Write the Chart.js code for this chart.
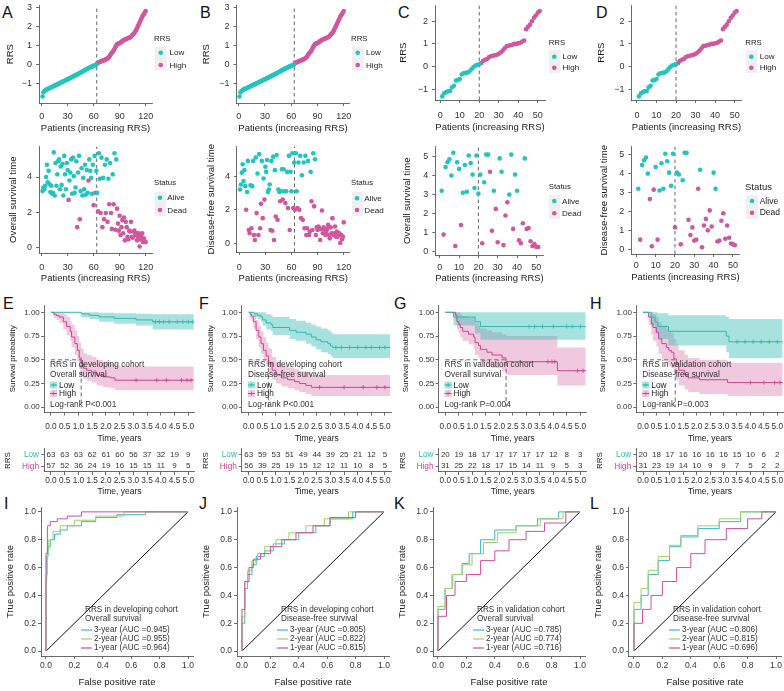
<!DOCTYPE html>
<html><head><meta charset="utf-8">
<script src="https://cdn.jsdelivr.net/npm/chart.js@4.4.1/dist/chart.umd.min.js"></script>
<style>
html,body{margin:0;padding:0;background:#fff}
body{position:relative;width:784px;height:691px;overflow:hidden;font-family:'Liberation Sans',Arial,sans-serif}
canvas{position:absolute}
.pl{position:absolute;font-size:16px;line-height:16px;color:#111}
</style></head><body>
<div class="pl" style="left:2px;top:5px">A</div>
<div class="pl" style="left:200px;top:5px">B</div>
<div class="pl" style="left:398px;top:5px">C</div>
<div class="pl" style="left:596px;top:5px">D</div>
<div class="pl" style="left:3px;top:296px">E</div>
<div class="pl" style="left:199px;top:296px">F</div>
<div class="pl" style="left:394px;top:296px">G</div>
<div class="pl" style="left:590px;top:296px">H</div>
<div class="pl" style="left:4px;top:496px">I</div>
<div class="pl" style="left:199px;top:496px">J</div>
<div class="pl" style="left:394px;top:496px">K</div>
<div class="pl" style="left:590px;top:496px">L</div>
<script>
// ================= DATA =================
const devRRS = [-1.70,-1.48,-1.42,-1.38,-1.35,-1.32,-1.30,-1.28,-1.26,-1.24,
-1.21,-1.19,-1.17,-1.15,-1.12,-1.10,-1.08,-1.06,-1.04,-1.02,
-0.99,-0.97,-0.95,-0.92,-0.90,-0.88,-0.86,-0.83,-0.81,-0.79,
-0.77,-0.74,-0.72,-0.70,-0.67,-0.65,-0.63,-0.60,-0.58,-0.56,
-0.53,-0.51,-0.48,-0.46,-0.43,-0.41,-0.38,-0.36,-0.33,-0.31,
-0.28,-0.26,-0.23,-0.21,-0.18,-0.16,-0.14,-0.12,-0.10,-0.08,
-0.06,-0.04,-0.02,
0.05,0.08,0.10,0.12,0.14,0.16,0.18,0.20,0.22,0.24,
0.26,0.28,0.31,0.35,0.40,0.48,0.55,0.60,0.65,0.72,
0.80,0.90,0.98,1.05,1.08,1.10,1.12,1.15,1.18,1.22,
1.25,1.28,1.30,1.32,1.34,1.36,1.38,1.40,1.42,1.45,
1.50,1.55,1.60,1.65,1.72,1.80,1.90,2.00,2.10,2.20,
2.30,2.40,2.50,2.58,2.65,2.72,2.80];
const devLowN = 63;
const devCut = 63.5;
const devOsTime = [3.2,3.4,3.3,3.5,4.0,4.7,3.7,4.35,3.6,3.15,
3.5,3.05,3.1,5.4,2.95,4.8,3.5,4.15,4.9,5.0,
3.3,4.6,3.55,4.75,2.95,5.2,4.15,3.3,4.8,4.4,
2.7,3.8,4.25,5.0,3.05,5.1,4.05,3.1,3.4,4.9,
1.15,4.25,5.2,1.6,3.2,4.5,2.95,3.95,3.3,4.7,
3.0,4.4,3.1,3.8,5.0,4.35,3.95,3.05,4.7,2.4,
5.2,3.1,4.35,
3.1,2.05,5.35,3.9,1.95,5.1,1.15,3.95,1.6,4.7,
1.95,5.0,1.45,3.9,2.45,4.8,1.95,1.05,4.15,2.45,
5.35,1.0,5.0,2.2,1.35,0.95,1.8,0.7,1.15,1.55,
0.8,1.7,0.4,1.45,1.15,0.6,0.45,0.95,0.9,1.45,
0.6,0.55,0.9,0.95,0.7,0.8,0.4,0.6,0.8,0.05,
0.45,0.65,0.8,0.3,0.5,0.35,0.3];
const devOsStatus = [0,0,0,0,0,0,0,0,0,0, 0,0,0,0,0,0,0,0,0,0, 0,0,0,0,0,0,0,0,0,0,
1,0,0,0,0,0,0,0,0,0, 1,0,0,1,0,0,0,0,0,0, 0,0,0,1,0,0,0,0,0,1, 0,1,0,
0,1,0,0,1,0,1,0,1,0, 1,0,1,0,1,0,1,1,0,1, 0,1,0,1,1,1,1,1,1,1,
1,1,1,1,1,1,1,1,1,1, 1,1,1,1,1,1,1,1,1,1, 1,1,1,1,1,1,1];
const devDfsTime = [3.2,3.5,4.2,4.7,3.7,4.35,3.4,2.0,3.05,4.9,
0.8,0.6,3.45,0.9,3.4,4.9,0.5,0.2,5.1,1.8,
4.15,0.5,5.3,0.9,2.35,4.9,1.5,3.85,2.6,4.55,
4.25,4.95,3.05,3.2,3.5,0.8,4.9,0.75,5.15,0.2,
4.35,1.6,5.25,1.4,3.2,3.05,2.5,3.1,4.4,2.6,
4.4,3.1,2.4,3.1,4.25,2.1,5.2,0.8,4.25,3.1,
5.35,2.1,4.8,
2.0,5.35,3.1,2.1,4.8,2.0,5.2,1.5,4.05,1.4,
4.8,0.9,5.2,0.5,0.9,4.9,0.5,0.7,4.25,2.5,
0.8,5.35,2.2,5.0,0.5,0.95,0.8,1.0,0.9,0.2,
0.85,1.95,0.6,0.95,0.85,0.5,0.7,0.85,1.1,0.5,
0.3,0.95,0.6,1.5,0.5,0.6,1.0,0.4,0.7,0.4,
0.55,0.6,0.02,0.5,0.25,0.4,1.25];
const devDfsStatus = [0,0,0,0,0,0,0,1,0,0, 1,1,0,1,0,0,1,1,0,1, 0,1,0,1,1,0,1,0,1,0,
0,0,0,0,0,1,0,1,0,1, 0,1,0,1,0,0,1,0,0,1, 0,0,1,0,0,1,0,1,0,0, 0,1,0,
1,0,0,1,0,1,0,1,0,1, 0,1,0,1,1,0,1,1,0,1, 1,0,1,0,1,1,1,1,1,1,
1,1,1,1,1,1,1,1,1,1, 1,1,1,1,1,1,1,1,1,1, 1,1,1,1,1,1,1];
const valRRS = [-1.32,-1.18,-1.13,-1.10,-1.08,-0.92,-0.85,-0.62,-0.60,-0.55,
-0.35,-0.30,-0.28,-0.27,-0.22,-0.12,-0.02,0.04,0.07,0.10,
0.15,0.25,0.30,0.33,0.42,0.45,0.47,0.50,0.52,0.56,
0.62,0.70,0.80,0.90,0.92,0.94,0.96,1.00,1.00,1.02,
1.05,1.10,1.15,1.65,1.75,1.85,2.00,2.15,2.25,2.38,2.45];
const valLowN = 20;
const valCut = 20;
const valOsTime = [3.2,0.9,4.45,4.7,4.85,4.0,5.2,0.3,4.7,4.35,
1.4,3.1,4.55,3.15,5.05,4.65,4.05,3.35,5.05,3.05,
4.05,0.45,3.65,5.1,5.1,4.2,1.1,3.2,2.25,0.5,
4.9,4.2,0.35,1.9,2.6,3.0,5.1,1.2,4.05,3.2,
0.6,0.45,1.5,4.9,1.2,1.25,0.55,0.3,0.4,0.25,0.25];
const valOsStatus = [0,1,0,0,0,0,0,1,0,0, 1,0,0,0,0,0,0,0,0,0, 0,1,0,0,0,1,1,0,1,1,
0,0,1,1,1,0,0,1,0,0, 1,1,1,0,1,1,1,1,1,1, 1];
const valDfsTime = [3.2,0.5,4.45,4.7,4.85,4.0,2.65,0.15,3.15,4.35,
0.5,3.1,4.55,3.2,5.05,4.65,4.05,3.35,5.05,1.15,
4.05,3.95,0.25,3.65,5.1,5.1,1.55,0.75,1.15,0.45,
0.5,3.2,4.2,0.1,1.25,1.6,1.0,2.05,1.2,4.05,
3.2,0.4,0.45,1.5,1.9,0.55,1.25,0.6,0.3,0.25,0.2];
const valDfsStatus = [0,1,0,0,0,0,1,1,1,0, 1,0,0,0,0,0,0,0,0,1, 0,0,1,0,0,0,1,1,1,1,
1,1,0,1,1,1,1,1,1,0, 0,1,1,1,1,1,1,1,1,1, 1];

const kmE_lowT = [0,1.1,1.4,1.75,2.3,3.1,3.7,5.2];
const kmE_lowS = [1,0.984,0.968,0.952,0.936,0.92,0.90,0.90];
const kmE_lowU = [1,1,1,0.995,0.99,0.985,0.98,0.98];
const kmE_lowD = [1,0.95,0.93,0.90,0.88,0.86,0.82,0.82];
const kmE_highT = [0,0.1,0.2,0.3,0.45,0.57,0.7,0.75,0.87,0.96,1.03,1.1,1.18,1.3,1.48,1.66,1.9,2.15,2.33,5.2];
const kmE_highS = [1,0.98,0.965,0.95,0.9,0.85,0.8,0.74,0.67,0.6,0.52,0.46,0.41,0.39,0.37,0.34,0.32,0.31,0.285,0.285];
const kmE_highU = [1,1,1,1,0.98,0.95,0.91,0.87,0.81,0.75,0.68,0.62,0.57,0.55,0.53,0.5,0.48,0.46,0.43,0.43];
const kmE_highD = [1,0.94,0.92,0.89,0.82,0.76,0.7,0.63,0.55,0.48,0.4,0.34,0.3,0.28,0.26,0.23,0.21,0.2,0.18,0.18];
const kmE_lowCens = [3.8,3.95,4.1,4.3,4.6,4.8,5.0,5.15];
const kmE_highCens = [3.1,3.85,4.2,4.75,4.95,5.1];

const kmF_lowT = [0,0.2,0.33,0.45,0.51,0.64,0.82,0.88,1.5,1.74,2.1,2.3,2.47,2.65,2.9,3.0,3.08,5.2];
const kmF_lowS = [1,0.984,0.968,0.952,0.92,0.888,0.872,0.84,0.81,0.79,0.77,0.74,0.71,0.69,0.67,0.645,0.63,0.63];
const kmF_lowU = [1,1,1,1,1,0.98,0.97,0.95,0.93,0.91,0.89,0.87,0.85,0.83,0.81,0.79,0.77,0.77];
const kmF_lowD = [1,0.95,0.93,0.9,0.86,0.82,0.8,0.76,0.72,0.7,0.67,0.64,0.61,0.58,0.56,0.54,0.52,0.52];
const kmF_highT = [0,0.05,0.1,0.17,0.27,0.37,0.45,0.54,0.64,0.73,0.86,1.0,1.2,1.43,1.68,1.86,2.1,2.3,5.2];
const kmF_highS = [1,0.98,0.96,0.9,0.81,0.74,0.67,0.6,0.54,0.47,0.39,0.34,0.31,0.29,0.27,0.25,0.23,0.21,0.21];
const kmF_highU = [1,1,1,0.98,0.92,0.86,0.8,0.74,0.68,0.62,0.53,0.48,0.44,0.42,0.4,0.38,0.36,0.34,0.34];
const kmF_highD = [1,0.94,0.91,0.83,0.72,0.63,0.56,0.49,0.43,0.36,0.29,0.25,0.22,0.2,0.18,0.16,0.14,0.12,0.12];
const kmF_lowCens = [3.2,3.4,3.7,4.0,4.3,4.5,4.8,5.0];
const kmF_highCens = [2.6,3.5,4.2,4.7,5.0];

const kmG_lowT = [0,0.3,1.1,1.3,5.2];
const kmG_lowS = [1,0.95,0.90,0.85,0.85];
const kmG_lowU = [1,1,1,1,1];
const kmG_lowD = [1,0.86,0.78,0.71,0.71];
const kmG_highT = [0,0.37,0.43,0.5,0.55,0.64,0.86,1.05,1.1,1.23,1.3,1.54,1.73,2.1,2.25,4.15,5.2];
const kmG_highS = [1,0.97,0.90,0.87,0.84,0.80,0.77,0.74,0.68,0.65,0.61,0.58,0.55,0.52,0.48,0.385,0.385];
const kmG_highU = [1,1,1,1,0.98,0.96,0.94,0.92,0.88,0.86,0.83,0.81,0.79,0.77,0.75,0.63,0.63];
const kmG_highD = [1,0.91,0.82,0.78,0.74,0.7,0.66,0.62,0.55,0.52,0.47,0.44,0.41,0.38,0.34,0.23,0.23];
const kmG_lowCens = [3.1,3.3,3.6,4.0,4.5,4.7,5.0];
const kmG_highCens = [3.8,3.95,4.05,4.9,5.1];

const kmH_lowT = [0,0.3,0.45,0.55,0.95,3.1,3.2,5.2];
const kmH_lowS = [1,0.95,0.90,0.85,0.80,0.75,0.69,0.69];
const kmH_lowU = [1,1,1,0.99,0.97,0.95,0.93,0.93];
const kmH_lowD = [1,0.86,0.78,0.72,0.65,0.58,0.52,0.52];
const kmH_highT = [0,0.21,0.31,0.37,0.5,0.58,0.7,0.87,0.96,1.05,1.15,1.24,1.33,1.55,1.68,2.1,3.15,5.2];
const kmH_highS = [1,0.95,0.88,0.84,0.79,0.72,0.67,0.63,0.60,0.58,0.51,0.46,0.39,0.34,0.31,0.29,0.26,0.26];
const kmH_highU = [1,1,1,0.98,0.95,0.9,0.86,0.83,0.8,0.78,0.72,0.66,0.6,0.55,0.52,0.5,0.47,0.47];
const kmH_highD = [1,0.87,0.76,0.7,0.64,0.56,0.5,0.46,0.43,0.41,0.34,0.29,0.23,0.19,0.16,0.14,0.12,0.12];
const kmH_lowCens = [3.5,3.8,4.1,4.4,4.7,5.0];
const kmH_highCens = [4.0,4.5,4.9,5.1];

const kmMedians = {E:1.1, F:0.72, G:2.25, H:1.2};

const riskTimes = [0,0.5,1,1.5,2,2.5,3,3.5,4,4.5,5];
const riskE_low = [63,63,63,62,61,60,56,37,32,19,9];
const riskE_high = [57,52,36,24,19,16,15,15,11,9,5];
const riskF_low = [63,59,53,51,49,44,39,25,21,12,5];
const riskF_high = [56,39,25,19,15,12,12,11,10,8,5];
const riskG_low = [20,19,18,17,17,17,17,17,12,8,3];
const riskG_high = [31,25,22,18,17,15,14,11,9,5,3];
const riskH_low = [20,18,17,16,16,16,16,15,10,6,2];
const riskH_high = [31,23,19,14,10,9,9,7,5,2,2];

const rocI_3y = [[0,0],[0,0.5],[0.005,0.5],[0.005,0.68],[0.015,0.68],[0.015,0.75],[0.03,0.75],[0.03,0.8],[0.06,0.8],[0.06,0.84],[0.1,0.84],[0.1,0.87],[0.15,0.87],[0.15,0.9],[0.25,0.9],[0.25,0.93],[0.35,0.93],[0.35,0.96],[0.5,0.96],[0.5,0.98],[0.7,0.98],[0.7,1],[1,1]];
const rocI_2y = [[0,0],[0,0.55],[0.01,0.55],[0.01,0.72],[0.02,0.72],[0.02,0.8],[0.05,0.8],[0.05,0.86],[0.1,0.86],[0.1,0.9],[0.2,0.9],[0.2,0.94],[0.35,0.94],[0.35,0.97],[0.55,0.97],[0.55,1],[1,1]];
const rocI_1y = [[0,0],[0,0.7],[0.01,0.7],[0.01,0.9],[0.03,0.9],[0.03,0.93],[0.08,0.93],[0.08,0.95],[0.15,0.95],[0.15,0.97],[0.25,0.97],[0.25,1],[1,1]];
const rocJ_3y = [[0,0],[0,0.2],[0.02,0.2],[0.02,0.45],[0.04,0.45],[0.04,0.55],[0.07,0.55],[0.07,0.62],[0.1,0.62],[0.1,0.68],[0.16,0.68],[0.16,0.72],[0.22,0.72],[0.22,0.77],[0.3,0.77],[0.3,0.8],[0.4,0.8],[0.4,0.85],[0.52,0.85],[0.52,0.9],[0.62,0.9],[0.62,0.95],[0.78,0.95],[0.78,1],[1,1]];
const rocJ_2y = [[0,0],[0,0.25],[0.02,0.25],[0.02,0.5],[0.04,0.5],[0.04,0.58],[0.07,0.58],[0.07,0.65],[0.11,0.65],[0.11,0.7],[0.16,0.7],[0.16,0.75],[0.24,0.75],[0.24,0.8],[0.33,0.8],[0.33,0.85],[0.45,0.85],[0.45,0.9],[0.58,0.9],[0.58,0.95],[0.75,0.95],[0.75,1],[1,1]];
const rocJ_1y = [[0,0],[0,0.3],[0.02,0.3],[0.02,0.5],[0.05,0.5],[0.05,0.6],[0.08,0.6],[0.08,0.66],[0.13,0.66],[0.13,0.7],[0.2,0.7],[0.2,0.75],[0.28,0.75],[0.28,0.8],[0.38,0.8],[0.38,0.85],[0.5,0.85],[0.5,0.9],[0.62,0.9],[0.62,0.96],[0.8,0.96],[0.8,1],[1,1]];
const rocK_3y = [[0,0],[0,0.3],[0.05,0.3],[0.05,0.45],[0.1,0.45],[0.1,0.55],[0.17,0.55],[0.17,0.63],[0.22,0.63],[0.22,0.7],[0.3,0.7],[0.3,0.8],[0.4,0.8],[0.4,0.87],[0.55,0.87],[0.55,0.9],[0.7,0.9],[0.7,0.95],[0.85,0.95],[0.85,1],[1,1]];
const rocK_2y = [[0,0],[0,0.32],[0.05,0.32],[0.05,0.45],[0.1,0.45],[0.1,0.55],[0.17,0.55],[0.17,0.62],[0.24,0.62],[0.24,0.7],[0.32,0.7],[0.32,0.78],[0.42,0.78],[0.42,0.85],[0.55,0.85],[0.55,0.9],[0.72,0.9],[0.72,0.95],[0.88,0.95],[0.88,1],[1,1]];
const rocK_1y = [[0,0],[0,0.25],[0.06,0.25],[0.06,0.4],[0.12,0.4],[0.12,0.5],[0.2,0.5],[0.2,0.55],[0.3,0.55],[0.3,0.65],[0.4,0.65],[0.4,0.72],[0.5,0.72],[0.5,0.8],[0.62,0.8],[0.62,0.86],[0.75,0.86],[0.75,0.92],[0.9,0.92],[0.9,1],[1,1]];
const rocL_3y = [[0,0],[0,0.3],[0.05,0.3],[0.05,0.4],[0.1,0.4],[0.1,0.55],[0.17,0.55],[0.17,0.65],[0.25,0.65],[0.25,0.75],[0.33,0.75],[0.33,0.82],[0.45,0.82],[0.45,0.88],[0.6,0.88],[0.6,0.93],[0.75,0.93],[0.75,1],[1,1]];
const rocL_2y = [[0,0],[0,0.35],[0.05,0.35],[0.05,0.45],[0.1,0.45],[0.1,0.58],[0.17,0.58],[0.17,0.68],[0.25,0.68],[0.25,0.76],[0.33,0.76],[0.33,0.83],[0.45,0.83],[0.45,0.9],[0.6,0.9],[0.6,0.95],[0.75,0.95],[0.75,1],[1,1]];
const rocL_1y = [[0,0],[0,0.2],[0.06,0.2],[0.06,0.3],[0.12,0.3],[0.12,0.4],[0.2,0.4],[0.2,0.5],[0.3,0.5],[0.3,0.6],[0.4,0.6],[0.4,0.7],[0.5,0.7],[0.5,0.8],[0.65,0.8],[0.65,0.88],[0.8,0.88],[0.8,0.95],[0.9,0.95],[0.9,1],[1,1]];

// ================= STYLE / HELPERS =================
const FONT = "'Liberation Sans', Arial, Helvetica, sans-serif";
Chart.defaults.font.family = FONT;
Chart.defaults.color = '#333';
const CY = '#22c5bd', MG = '#d0569d';
const KM_LOW = '#2fbab1', KM_HIGH = '#c9468f';
const KM_LOW_B = 'rgba(47,186,177,0.42)', KM_HIGH_B = 'rgba(209,86,157,0.32)';
const ROC3 = '#3cb8c4', ROC2 = '#9fd067', ROC1 = '#d14f9b';
const CLEAR = 'rgba(0,0,0,0)';

const annotPlugin = {
  id: 'annot',
  afterDraw(chart, args, o) {
    if (!o || !o.items) return;
    const ctx = chart.ctx, off = o.off;
    ctx.save();
    for (const it of o.items) {
      if (it.t === 'text') {
        ctx.font = (it.size || 8) + 'px ' + FONT;
        ctx.fillStyle = it.color || '#222';
        ctx.textAlign = it.align || 'left';
        ctx.textBaseline = 'middle';
        ctx.fillText(it.s, it.x - off.left, it.y - off.top);
      } else if (it.t === 'dot') {
        ctx.fillStyle = it.color;
        ctx.beginPath(); ctx.arc(it.x - off.left, it.y - off.top, it.r || 2.3, 0, Math.PI * 2); ctx.fill();
      } else if (it.t === 'rect') {
        ctx.fillStyle = it.color;
        ctx.fillRect(it.x - off.left, it.y - off.top, it.w, it.h);
      } else if (it.t === 'line') {
        ctx.strokeStyle = it.color; ctx.lineWidth = it.w || 1;
        ctx.beginPath(); ctx.moveTo(it.x1 - off.left, it.y1 - off.top); ctx.lineTo(it.x2 - off.left, it.y2 - off.top); ctx.stroke();
      } else if (it.t === 'cross') {
        const x = it.x - off.left, y = it.y - off.top, r = it.r || 2;
        ctx.strokeStyle = it.color; ctx.lineWidth = 0.8;
        ctx.beginPath(); ctx.moveTo(x - r, y); ctx.lineTo(x + r, y); ctx.moveTo(x, y - r); ctx.lineTo(x, y + r); ctx.stroke();
      }
    }
    ctx.restore();
  }
};
const riskPlugin = {
  id: 'risk',
  afterDraw(chart, args, o) {
    if (!o || !o.rows) return;
    const ctx = chart.ctx, xs = chart.scales.x, ys = chart.scales.y;
    ctx.save();
    ctx.font = o.size + 'px ' + FONT; ctx.fillStyle = '#333';
    ctx.textAlign = 'center'; ctx.textBaseline = 'middle';
    o.rows.forEach((row, r) => row.forEach((n, i) => {
      ctx.fillText(String(n), xs.getPixelForValue(o.times[i]), ys.getPixelForValue(r));
    }));
    ctx.restore();
  }
};
Chart.register(annotPlugin, riskPlugin);

function ax(o) {
  const a = {
    type: o.type || 'linear', position: o.pos, offset: !!o.offset,
    afterFit: s => { if (o.pos === 'left') s.width = o.fit; else s.height = o.fit; },
    ticks: {autoSkip: false, maxRotation: 0, minRotation: 0, padding: o.pad, font: {family: FONT, size: o.size}, color: o.tcolor || '#333'},
    grid: {display: true, drawOnChartArea: false, drawTicks: true, tickLength: 3, color: '#444', lineWidth: 0.8},
    border: {display: true, color: '#444', width: 0.8},
    title: {display: !!o.title, text: o.title || '', font: {family: FONT, size: o.tsize || 9}, color: '#1a1a1a', padding: {top: 0, bottom: 0}}
  };
  if (o.min !== undefined) { a.min = o.min; a.max = o.max; }
  if (o.ticks) a.afterBuildTicks = s => { s.ticks = o.ticks.map(v => ({value: v})); };
  if (o.fmt) a.ticks.callback = o.fmt;
  if (o.labels) a.labels = o.labels;
  return a;
}

function place(p, config) {
  const left = Math.floor(p.l - p.yw - 2);
  const top = Math.floor(p.t - (p.pt || 8));
  const right = Math.ceil(p.r + (p.pr || 6));
  const bottom = Math.ceil(p.b + p.xh + 2);
  const cv = document.createElement('canvas');
  cv.width = right - left; cv.height = bottom - top;
  cv.style.left = left + 'px'; cv.style.top = top + 'px';
  document.body.appendChild(cv);
  const o = config.options;
  o.responsive = false; o.animation = false; o.maintainAspectRatio = false;
  o.layout = {autoPadding: false, padding: {left: p.l - p.yw - left, top: p.t - top, right: right - p.r, bottom: bottom - p.b - p.xh}};
  o.plugins = Object.assign({legend: {display: false}, tooltip: {enabled: false}}, o.plugins || {});
  o.plugins.annot = {off: {left, top}, items: p.items || []};
  return new Chart(cv, config);
}

const fmtMinus = v => (v < 0 ? '\u2212' : '') + Math.abs(v);

function legendItems(L) {
  const its = [{t: 'rect', x: L.bg[0], y: L.bg[1], w: L.bg[2], h: L.bg[3], color: '#efefef'},
               {t: 'text', x: L.tx, y: L.ty, s: L.title, size: L.ts || 7.8, color: '#222'}];
  L.items.forEach(d => {
    its.push({t: 'dot', x: L.dx, y: d.y, r: 2.3, color: d.c});
    its.push({t: 'text', x: L.lx, y: d.y + 0.3, s: d.s, size: L.is || 8.1, color: '#222'});
  });
  return its;
}

function scatterPanel(p) {
  const a = [], b = [];
  p.vals.forEach((v, i) => { const pt = {x: i + 1, y: v}; (p.second(i) ? b : a).push(pt); });
  place(p, {
    type: 'scatter',
    data: {datasets: [
      {data: a, backgroundColor: CY, borderColor: CY, borderWidth: 0, pointRadius: 2.3, order: 1},
      {data: b, backgroundColor: MG, borderColor: MG, borderWidth: 0, pointRadius: 2.3, order: 1},
      {data: [{x: p.cut, y: p.yr[0]}, {x: p.cut, y: p.yr[1]}], showLine: true, borderColor: '#555', borderWidth: 0.9, borderDash: [3.5, 3], pointRadius: 0, order: 5}
    ]},
    options: {scales: {
      x: ax({pos: 'bottom', min: p.xr[0], max: p.xr[1], ticks: p.xt, fit: p.xh, pad: p.xpad, size: 9, title: 'Patients (increasing RRS)', tsize: 9.5}),
      y: ax({pos: 'left', min: p.yr[0], max: p.yr[1], ticks: p.yt, fit: p.yw, pad: 4, size: 9, title: p.ytitle, tsize: p.ytsize || 9.5, fmt: fmtMinus})
    }}
  });
}
const dev = i => i >= devLowN, val = i => i >= valLowN;
const deadDevOs = i => devOsStatus[i] === 1, deadDevDfs = i => devDfsStatus[i] === 1;
const deadValOs = i => valOsStatus[i] === 1, deadValDfs = i => valDfsStatus[i] === 1;
const xtDev = [0, 30, 60, 90, 120], xtVal = [0, 10, 20, 30, 40, 50];

scatterPanel({l: 39, t: 4, r: 152, b: 103, yw: 34.7, xh: 30.7, xpad: 5.3, pr: 40, xr: [-3.1, 127.3], yr: [-2.04, 3.1], xt: xtDev, yt: [-1, 0, 1, 2, 3], vals: devRRS, second: dev, cut: devCut, ytitle: 'RRS',
  items: legendItems({title: 'RRS', tx: 154, ty: 39, bg: [155, 46.7, 11.7, 24], dx: 160.7, lx: 169.5, items: [{y: 52.7, c: CY, s: 'Low'}, {y: 65, c: MG, s: 'High'}]})});
scatterPanel({l: 236.5, t: 4, r: 349.5, b: 103, yw: 36.2, xh: 30.7, xpad: 5.3, pr: 40, xr: [-2.5, 126.6], yr: [-2.04, 3.1], xt: xtDev, yt: [-1, 0, 1, 2, 3], vals: devRRS, second: dev, cut: devCut, ytitle: 'RRS',
  items: legendItems({title: 'RRS', tx: 351, ty: 39.3, bg: [352, 46.7, 11.7, 24], dx: 357.7, lx: 366, items: [{y: 52.7, c: CY, s: 'Low'}, {y: 65, c: MG, s: 'High'}]})});
scatterPanel({l: 435, t: 4, r: 545, b: 100, yw: 37, xh: 33, xpad: 7, pr: 40, xr: [-2.7, 53.7], yr: [-1.48, 2.70], xt: xtVal, yt: [-1, 0, 1, 2], vals: valRRS, second: val, cut: valCut, ytitle: 'RRS',
  items: legendItems({title: 'RRS', tx: 548.7, ty: 42.7, bg: [549, 50, 11.5, 23], dx: 554.3, lx: 562.5, items: [{y: 56.7, c: CY, s: 'Low'}, {y: 67.7, c: MG, s: 'High'}]})});
scatterPanel({l: 631.5, t: 4, r: 741.5, b: 100, yw: 35.9, xh: 33, xpad: 7, pr: 43, xr: [-2.8, 53.5], yr: [-1.48, 2.70], xt: xtVal, yt: [-1, 0, 1, 2], vals: valRRS, second: val, cut: valCut, ytitle: 'RRS',
  items: legendItems({title: 'RRS', tx: 745.3, ty: 42.7, bg: [746, 50, 11.5, 23], dx: 751.3, lx: 759.7, items: [{y: 56.7, c: CY, s: 'Low'}, {y: 67.7, c: MG, s: 'High'}]})});

scatterPanel({l: 39, t: 145, r: 152, b: 253, yw: 31.8, xh: 31.1, xpad: 6.1, pr: 40, xr: [-3.1, 127.3], yr: [-0.32, 5.74], xt: xtDev, yt: [0, 2, 4], vals: devOsTime, second: deadDevOs, cut: devCut, ytitle: 'Overall survival time', ytsize: 9.6,
  items: legendItems({title: 'Status', tx: 154, ty: 183.3, bg: [155, 192, 11, 24], dx: 160, lx: 167.3, items: [{y: 197.7, c: CY, s: 'Alive'}, {y: 210, c: MG, s: 'Dead'}]})});
scatterPanel({l: 237, t: 145, r: 349.5, b: 252, yw: 31.8, xh: 32.1, xpad: 7.1, pr: 40, xr: [-2.5, 126.6], yr: [-0.51, 5.76], xt: xtDev, yt: [0, 2, 4], vals: devDfsTime, second: deadDevDfs, cut: devCut, ytitle: 'Disease-free survival time', ytsize: 9.6,
  items: legendItems({title: 'Status', tx: 351, ty: 183.3, bg: [352, 192, 11, 24], dx: 357, lx: 364.3, items: [{y: 198.3, c: CY, s: 'Alive'}, {y: 210, c: MG, s: 'Dead'}]})});
scatterPanel({l: 435.3, t: 145, r: 543.7, b: 255, yw: 34, xh: 29.1, xpad: 4.1, pr: 40, xr: [-2.3, 53.8], yr: [-0.17, 5.53], xt: xtVal, yt: [0, 1, 2, 3, 4, 5], vals: valOsTime, second: deadValOs, cut: valCut, ytitle: 'Overall survival time', ytsize: 9.6,
  items: legendItems({title: 'Status', tx: 548.7, ty: 186.7, bg: [549, 195, 11, 24], dx: 554.3, lx: 562, items: [{y: 201, c: CY, s: 'Alive'}, {y: 213.3, c: MG, s: 'Dead'}]})});
scatterPanel({l: 631.3, t: 145, r: 739.7, b: 254, yw: 32.4, xh: 29.5, xpad: 3.6, pr: 45, xr: [-2.6, 53.5], yr: [-0.26, 5.44], xt: xtVal, yt: [0, 1, 2, 3, 4, 5], vals: valDfsTime, second: deadValDfs, cut: valCut, ytitle: 'Disease-free survival time', ytsize: 9.6,
  items: legendItems({title: 'Status', tx: 745, ty: 187.7, ts: 9.5, is: 8.5, bg: [746, 195, 12, 24], dx: 752, lx: 759.7, items: [{y: 201, c: CY, s: 'Alive'}, {y: 212.7, c: MG, s: 'Dead'}]})});

const pts = (t, s) => t.map((v, i) => ({x: v, y: s[i]}));
function survAt(t, s, x) { let y = s[0]; for (let i = 0; i < t.length; i++) if (t[i] <= x) y = s[i]; return y; }

function kmPanel(p) {
  const k = p.km;
  const ds = [
    {data: k.lowC.map(x => ({x, y: survAt(k.lowT, k.lowS, x)})), showLine: false, pointStyle: 'cross', pointRadius: 2.2, borderColor: KM_LOW, borderWidth: 0.8, order: 0},
    {data: k.highC.map(x => ({x, y: survAt(k.highT, k.highS, x)})), showLine: false, pointStyle: 'cross', pointRadius: 2.2, borderColor: KM_HIGH, borderWidth: 0.8, order: 0},
    {data: pts(k.lowT, k.lowS), stepped: 'before', borderColor: KM_LOW, borderWidth: 1, pointRadius: 0, fill: false, order: 1},
    {data: pts(k.highT, k.highS), stepped: 'before', borderColor: KM_HIGH, borderWidth: 1, pointRadius: 0, fill: false, order: 1},
    {data: pts(k.lowT, k.lowU), stepped: 'before', borderColor: CLEAR, borderWidth: 0, pointRadius: 0, fill: '+1', backgroundColor: KM_LOW_B, order: 2},
    {data: pts(k.lowT, k.lowD), stepped: 'before', borderColor: CLEAR, borderWidth: 0, pointRadius: 0, fill: false, order: 2},
    {data: pts(k.highT, k.highU), stepped: 'before', borderColor: CLEAR, borderWidth: 0, pointRadius: 0, fill: '+1', backgroundColor: KM_HIGH_B, order: 2},
    {data: pts(k.highT, k.highD), stepped: 'before', borderColor: CLEAR, borderWidth: 0, pointRadius: 0, fill: false, order: 2},
    {data: [{x: 0, y: 0.5}, {x: p.med, y: 0.5}, {x: p.med, y: 0}], borderColor: '#555', borderWidth: 0.9, borderDash: [4, 3], pointRadius: 0, fill: false, order: 3}
  ];
  const l = p.l, t = p.t;
  const items = [
    {t: 'text', x: l + 6, y: t + 59.5, s: p.txt[0], size: 8.3, color: '#333'},
    {t: 'text', x: l + 6, y: t + 69.5, s: p.txt[1], size: 8.3, color: '#333'},
    {t: 'rect', x: l + 6, y: t + 76.5, w: 7, h: 7, color: KM_LOW_B},
    {t: 'line', x1: l + 6, y1: t + 80, x2: l + 13, y2: t + 80, color: KM_LOW, w: 1},
    {t: 'cross', x: l + 9.5, y: t + 80, r: 2, color: KM_LOW},
    {t: 'text', x: l + 15, y: t + 80.5, s: 'Low', size: 8.3, color: '#222'},
    {t: 'rect', x: l + 6, y: t + 85, w: 7, h: 7, color: KM_HIGH_B},
    {t: 'line', x1: l + 6, y1: t + 88.5, x2: l + 13, y2: t + 88.5, color: KM_HIGH, w: 1},
    {t: 'cross', x: l + 9.5, y: t + 88.5, r: 2, color: KM_HIGH},
    {t: 'text', x: l + 15, y: t + 89, s: 'High', size: 8.3, color: '#222'},
    {t: 'text', x: l + 6, y: t + 99.5, s: p.txt[2], size: 8.3, color: '#333'}
  ];
  place({l: p.l, t: p.t, r: p.r, b: p.b, yw: p.yw, xh: 31.5, items}, {
    type: 'line',
    data: {datasets: ds},
    options: {scales: {
      x: ax({pos: 'bottom', min: -0.25, max: 5.24, ticks: riskTimes, fit: 31.5, pad: 6.2, size: 8.3, title: 'Time, years', tsize: 8.5, fmt: v => v.toFixed(1)}),
      y: ax({pos: 'left', min: -0.055, max: 1.077, ticks: [0, 0.25, 0.5, 0.75, 1], fit: p.yw, pad: 1.3, size: 8, title: 'Survival probability', tsize: 8, fmt: v => v.toFixed(2)})
    }}
  });
  place({l: p.l, t: 446, r: p.r, b: 472, yw: p.ryw, xh: 25, pt: 4}, {
    type: 'line',
    data: {datasets: [{data: []}]},
    options: {
      plugins: {risk: {rows: p.risk, times: riskTimes, size: 8}},
      scales: {
        x: ax({pos: 'bottom', min: -0.25, max: 5.24, ticks: riskTimes, fit: 25, pad: 1, size: 8.3, title: 'Time, years', tsize: 8.5, fmt: v => v.toFixed(1)}),
        y: ax({type: 'category', pos: 'left', labels: ['Low', 'High'], offset: true, fit: p.ryw, pad: 2, size: 8.3, title: 'RRS', tsize: 8, tcolor: c => (c.index === 0 ? KM_LOW : KM_HIGH)})
      }
    }
  });
}
kmPanel({l: 44.1, t: 305, r: 194.9, b: 412.5, yw: 35.8, ryw: 40.9, med: kmMedians.E,
  km: {lowT: kmE_lowT, lowS: kmE_lowS, lowU: kmE_lowU, lowD: kmE_lowD, highT: kmE_highT, highS: kmE_highS, highU: kmE_highU, highD: kmE_highD, lowC: kmE_lowCens, highC: kmE_highCens},
  txt: ['RRS in developing cohort', 'Overall survival', 'Log-rank P<0.001'], risk: [riskE_low, riskE_high]});
kmPanel({l: 241.9, t: 305, r: 391.5, b: 412.5, yw: 35.5, ryw: 40.9, med: kmMedians.F,
  km: {lowT: kmF_lowT, lowS: kmF_lowS, lowU: kmF_lowU, lowD: kmF_lowD, highT: kmF_highT, highS: kmF_highS, highU: kmF_highU, highD: kmF_highD, lowC: kmF_lowCens, highC: kmF_highCens},
  txt: ['RRS in developing cohort', 'Disease-free survival', 'Log-rank P<0.001'], risk: [riskF_low, riskF_high]});
kmPanel({l: 438.6, t: 305, r: 586.8, b: 412.5, yw: 37.5, ryw: 40.9, med: kmMedians.G,
  km: {lowT: kmG_lowT, lowS: kmG_lowS, lowU: kmG_lowU, lowD: kmG_lowD, highT: kmG_highT, highS: kmG_highS, highU: kmG_highU, highD: kmG_highD, lowC: kmG_lowCens, highC: kmG_highCens},
  txt: ['RRS in validation cohort', 'Overall survival', 'Log-rank P=0.004'], risk: [riskG_low, riskG_high]});
kmPanel({l: 636.3, t: 305, r: 783.7, b: 412.5, yw: 38.8, ryw: 40.9, med: kmMedians.H,
  km: {lowT: kmH_lowT, lowS: kmH_lowS, lowU: kmH_lowU, lowD: kmH_lowD, highT: kmH_highT, highS: kmH_highS, highU: kmH_highU, highD: kmH_highD, lowC: kmH_lowCens, highC: kmH_highCens},
  txt: ['RRS in validation cohort', 'Disease-free survival', 'Log-rank P=0.003'], risk: [riskH_low, riskH_high]});

const xy = arr => arr.map(p => ({x: p[0], y: p[1]}));
function rocPanel(p) {
  const l = p.l, b = p.b;
  const items = [
    {t: 'text', x: l + 44, y: b - 46, s: p.txt[0], size: 8.2, color: '#333'},
    {t: 'text', x: l + 44, y: b - 37, s: p.txt[1], size: 8.2, color: '#333'}
  ];
  const cols = [ROC3, ROC2, ROC1], names = ['3-year', '2-year', '1-year'];
  [26, 17, 8].forEach((d, i) => {
    items.push({t: 'line', x1: l + 40, y1: b - d, x2: l + 51, y2: b - d, color: cols[i], w: 1.2});
    items.push({t: 'text', x: l + 53, y: b - d, s: names[i] + ' (AUC =' + p.auc[i] + ')', size: 8.2, color: '#333'});
  });
  const line = (d, c) => ({data: xy(d), borderColor: c, borderWidth: 1, pointRadius: 0, fill: false, tension: 0});
  place({l: p.l, t: p.t, r: p.r, b: p.b, yw: 36.7, xh: 31.7, items}, {
    type: 'line',
    data: {datasets: [
      line(p.c1, ROC1), line(p.c2, ROC2), line(p.c3, ROC3),
      {data: [{x: 0, y: 0}, {x: 1, y: 1}], borderColor: '#111', borderWidth: 1, pointRadius: 0, fill: false}
    ]},
    options: {scales: {
      x: ax({pos: 'bottom', min: -0.035, max: 1.035, ticks: [0, 0.2, 0.4, 0.6, 0.8, 1], fit: 31.7, pad: 1.9, size: 8.5, title: 'False positive rate', tsize: 9.5, fmt: v => v.toFixed(1)}),
      y: ax({pos: 'left', min: -0.035, max: 1.035, ticks: [0, 0.2, 0.4, 0.6, 0.8, 1], fit: 36.7, pad: 2, size: 8.5, title: 'True positive rate', tsize: 9.5, fmt: v => v.toFixed(1)})
    }}
  });
}
rocPanel({l: 41, t: 507, r: 193, b: 656, c3: rocI_3y, c2: rocI_2y, c1: rocI_1y, auc: ['0.945', '0.955', '0.964'], txt: ['RRS in developing cohort', 'Overall survival']});
rocPanel({l: 237, t: 507, r: 389, b: 656, c3: rocJ_3y, c2: rocJ_2y, c1: rocJ_1y, auc: ['0.805', '0.822', '0.815'], txt: ['RRS in developing cohort', 'Disease-free survival']});
rocPanel({l: 433, t: 507, r: 585, b: 656, c3: rocK_3y, c2: rocK_2y, c1: rocK_1y, auc: ['0.785', '0.774', '0.716'], txt: ['RRS in validation cohort', 'Overall survival']});
rocPanel({l: 629, t: 507, r: 781, b: 656, c3: rocL_3y, c2: rocL_2y, c1: rocL_1y, auc: ['0.806', '0.815', '0.696'], txt: ['RRS in validation cohort', 'Disease-free survival']});
</script>
</body></html>
